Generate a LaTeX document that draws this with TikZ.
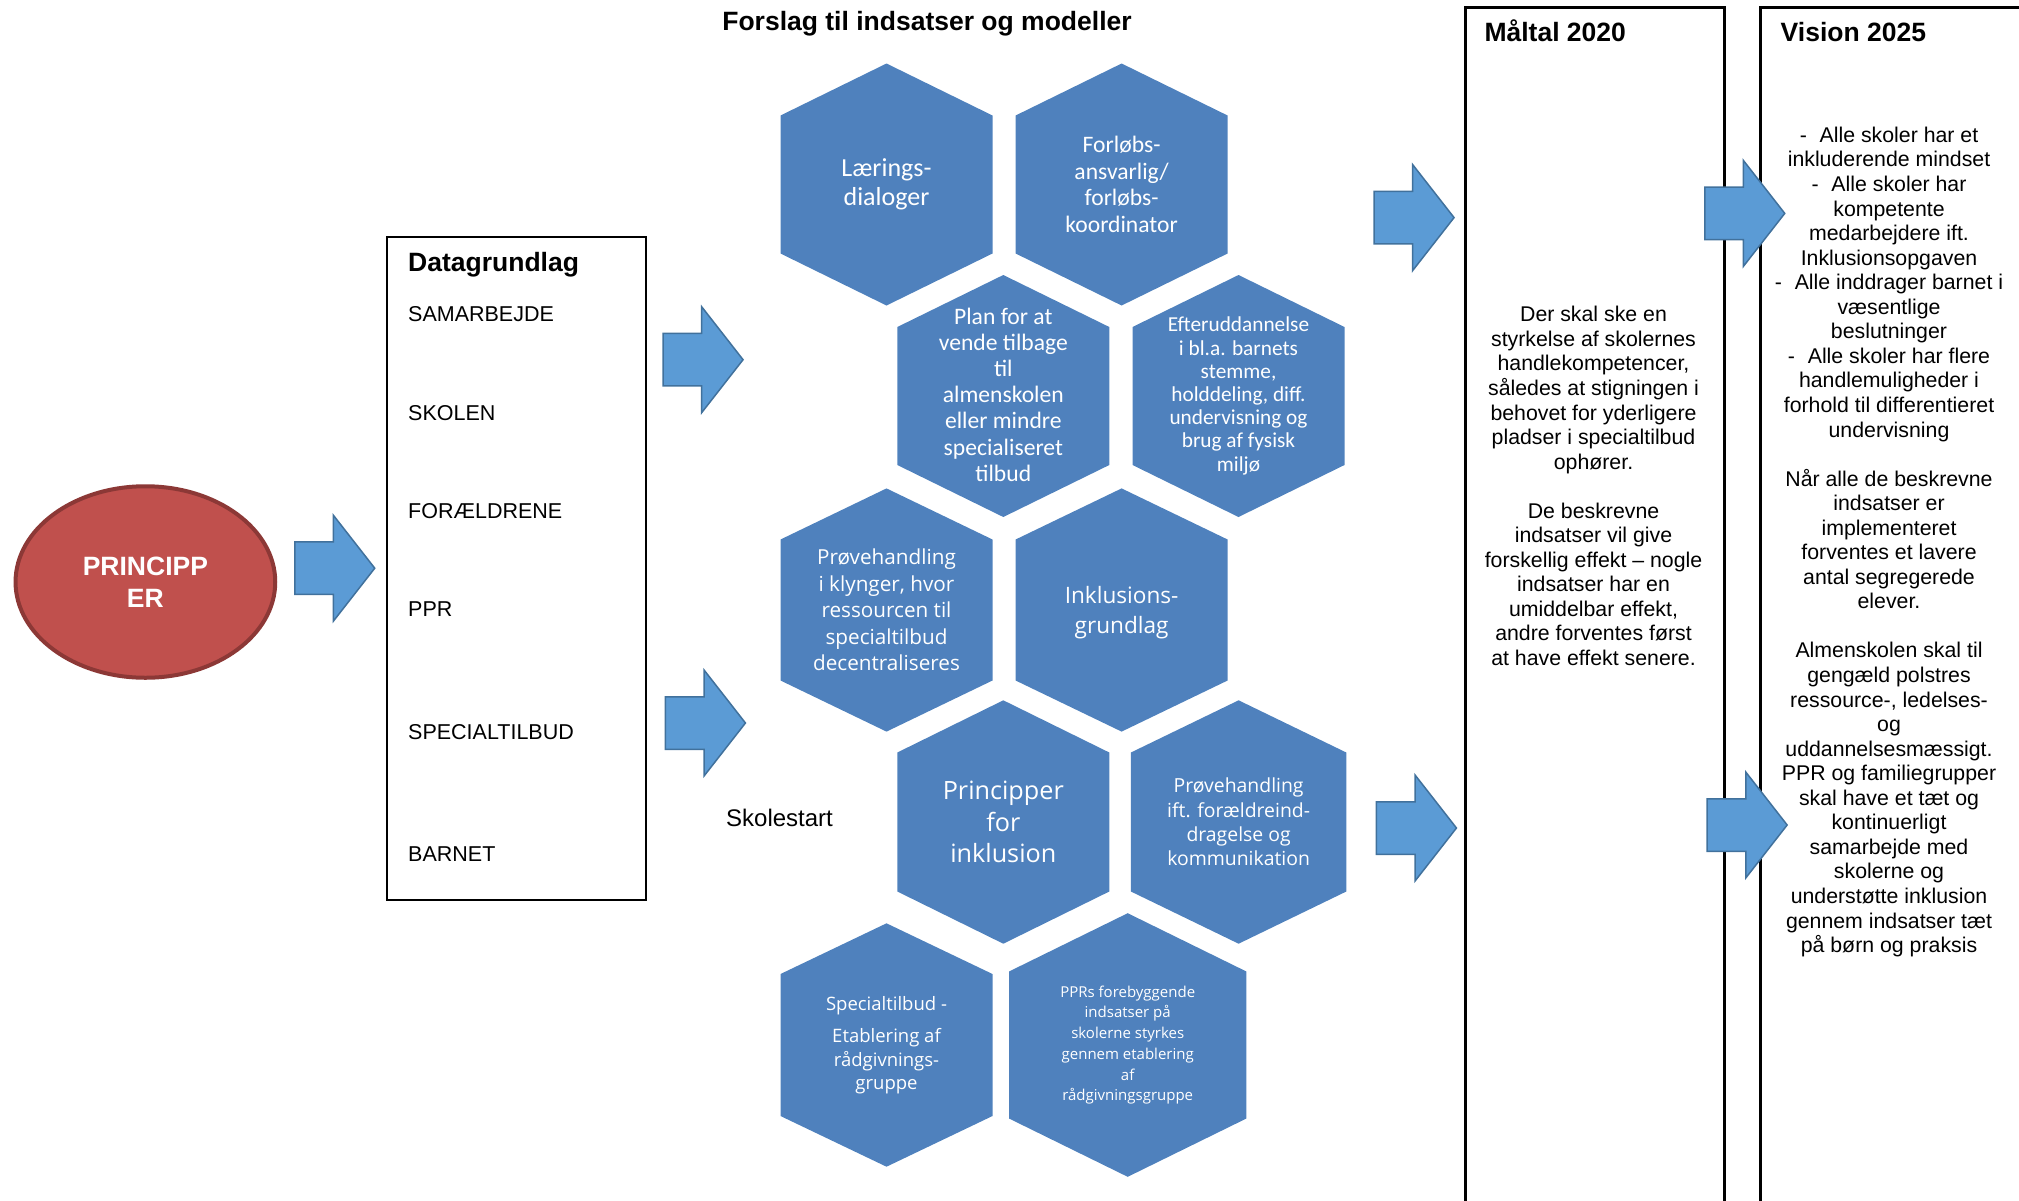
\documentclass[tikz,border=0pt]{standalone}
\usepackage{fontspec}
\setmainfont{Liberation Sans}
\newfontfamily\calfont{Carlito}
\newfontfamily\hexfont{Open Sans}
\usepackage{tikz}
\usetikzlibrary{shapes,arrows,positioning}

\definecolor{hexblue}{HTML}{4F81BD}
\definecolor{arrowblue}{HTML}{5B9BD5}
\definecolor{arrowedge}{HTML}{41719C}
\definecolor{princred}{HTML}{C0504D}
\definecolor{princedge}{HTML}{8C3836}

\newcommand\fs[2]{\fontsize{#1}{#2}\selectfont}
% hexagon: name, centre, half width, half height, half side, text options, text
\newcommand\hexcell[7]{%
  \fill[hexblue] (#2) ++(0,-#4) -- ++(#3,#4-#5) -- ++(0,2*#5) -- ++(-#3,#4-#5) -- ++(-#3,-#4+#5) -- ++(0,-2*#5) -- cycle;
  \node[hextext,#6] (#1) at (#2) {#7};
}

\begin{document}
\begin{tikzpicture}[x=1pt,y=-1pt]
  \tikzstyle{hextext}=[text=white,align=center,inner sep=0pt]
  \tikzstyle{blockarrow}=[single arrow,draw=arrowedge,fill=arrowblue,line width=1.5pt,inner xsep=0pt,inner ysep=25.5pt,
    minimum height=80pt,minimum width=104.5pt,single arrow head extend=26.75pt,single arrow tip angle=104,anchor=tail]
  \tikzstyle{column}=[draw,line width=3pt,inner sep=0pt,anchor=north west]
  \tikzstyle{heading}=[font=\bfseries\fs{26.5}{30},inner sep=0pt]
  \tikzstyle{item}=[font=\fs{21.5}{25},inner sep=0pt,anchor=base west]
  \tikzstyle{body}=[font=\fs{21.3}{24.55},align=center,inner sep=0pt,anchor=north]

  \useasboundingbox (0,0) rectangle (2019,1200);
  \clip (0,0) rectangle (2019,1200);

  \node[heading,anchor=base] (title) at (927,30.5) {Forslag til indsatser og modeller};

  % principper
  \node[ellipse,fill=princred,draw=princedge,line width=4pt,minimum width=259.7pt,minimum height=191.5pt,
    inner sep=0pt,text=white,align=center,font=\bfseries\fs{26.5}{31.7}] (princ) at (145.4,582) {PRINCIPP\\ER};

  % datagrundlag
  \node[draw,line width=2pt,minimum width=259pt,minimum height=663pt,inner sep=0pt] (data) at (516.8,568.2) {};
  \node[heading,anchor=base west] (datatitle) at (408,271) {Datagrundlag};
  \node[item] (samarbejde) at (408,321.8) {SAMARBEJDE};
  \node[item] (skolen) at (408,420) {SKOLEN};
  \node[item] (foraeldre) at (408,518) {FORÆLDRENE};
  \node[item] (ppr) at (408,616.4) {PPR};
  \node[item] (special) at (408,739) {SPECIALTILBUD};
  \node[item] (barnet) at (408,861.5) {BARNET};

  \node[font=\fs{24}{28},inner sep=0pt,anchor=base west] (skolestart) at (726,826.4) {Skolestart};

  % columns
  \node[column,minimum width=259pt,minimum height=1205pt] (maaltal) at (1464,5.5) {};
  \node[column,minimum width=260pt,minimum height=1205pt] (vision) at (1759,5.5) {};
  \node[heading,anchor=base west] (maaltaltitle) at (1484.3,41) {Måltal 2020};
  \node[heading,anchor=base west] (visiontitle) at (1780.5,41) {Vision 2025};

  \node[body] (maaltaltext) at (1593.5,306.2) {Der skal ske en\\styrkelse af skolernes\\handlekompetencer,\\således at stigningen i\\behovet for yderligere\\pladser i specialtilbud\\ophører.\\[24.55pt]
    De beskrevne\\indsatser vil give\\forskellig effekt – nogle\\indsatser har en\\umiddelbar effekt,\\andre forventes først\\at have effekt senere.};

  \node[body] (visiontext) at (1889,126.8) {-\hspace{0.6em}Alle skoler har et\\inkluderende mindset\\-\hspace{0.6em}Alle skoler har\\kompetente\\medarbejdere ift.\\Inklusionsopgaven\\-\hspace{0.6em}Alle inddrager barnet i\\væsentlige\\beslutninger\\-\hspace{0.6em}Alle skoler har flere\\handlemuligheder i\\forhold til differentieret\\undervisning\\[24.55pt]
    Når alle de beskrevne\\indsatser er\\implementeret\\forventes et lavere\\antal segregerede\\elever.\\[24.55pt]
    Almenskolen skal til\\gengæld polstres\\ressource-, ledelses-\\og\\uddannelsesmæssigt.\\PPR og familiegrupper\\skal have et tæt og\\kontinuerligt\\samarbejde med\\skolerne og\\understøtte inklusion\\gennem indsatser tæt\\på børn og praksis};

  % hexagons
  \hexcell{laering}{886.5,184.5}{106}{121}{69}{font=\calfont\fs{26}{29}}{Lærings-\\dialoger}
  \hexcell{forloeb}{1121.6,184.5}{106}{121}{69}{font=\calfont\fs{23.6}{26.5}}{Forløbs-\\ansvarlig/\\forløbs-\\koordinator}
  \hexcell{plan}{1003.3,396}{106}{121}{69}{font=\calfont\fs{23.6}{26.2},yshift=1.5pt}{Plan for at\\vende tilbage\\til\\almenskolen\\eller mindre\\specialiseret\\tilbud}
  \hexcell{efter}{1238.5,396}{106}{121}{69}{font=\calfont\fs{21.3}{23.2}}{Efteruddannelse\\i bl.a. barnets\\stemme,\\holddeling, diff.\\undervisning og\\brug af fysisk\\miljø}
  \hexcell{klynger}{886.5,610}{106}{121.6}{70.5}{font=\hexfont\fs{20.7}{26.4}}{Prøvehandling\\i klynger, hvor\\ressourcen til\\specialtilbud\\decentraliseres}
  \hexcell{grundlag}{1121.6,610}{106}{121.6}{70.5}{font=\hexfont\fs{22.6}{29.8},yshift=-3pt}{Inklusions-\\grundlag}
  \hexcell{inklusion}{1003.3,822}{106}{121.7}{69.5}{font=\hexfont\fs{25.2}{31.5}}{Principper\\for\\inklusion}
  \hexcell{foraeldreind}{1238.6,822}{107.7}{121.7}{69.5}{font=\hexfont\fs{19.4}{24.2}}{Prøvehandling\\ift. forældreind-\\dragelse og\\kommunikation}
  \hexcell{raadgivning}{886.5,1045}{106}{121.7}{71}{font=\hexfont\fs{18.5}{23.4}}{Specialtilbud -\\[9.2pt]Etablering af\\rådgivnings-\\gruppe}
  \hexcell{forebyg}{1127.7,1045}{118.7}{131.8}{73.5}{font=\hexfont\fs{15}{20.7}}{PPRs forebyggende\\indsatser på\\skolerne styrkes\\gennem etablering\\af\\rådgivningsgruppe}

  % block arrows
  \node[blockarrow] (toData) at (294,568.2) {};
  \node[blockarrow] (toTop) at (662.3,359.7) {};
  \node[blockarrow] (toLow) at (664.7,723) {};
  \node[blockarrow] (toMaalTop) at (1373.3,217.6) {};
  \node[blockarrow] (toMaalLow) at (1375.7,828) {};
  \node[blockarrow] (toVisTop) at (1704,213.4) {};
  \node[blockarrow] (toVisLow) at (1706.4,825) {};
\end{tikzpicture}
\end{document}
